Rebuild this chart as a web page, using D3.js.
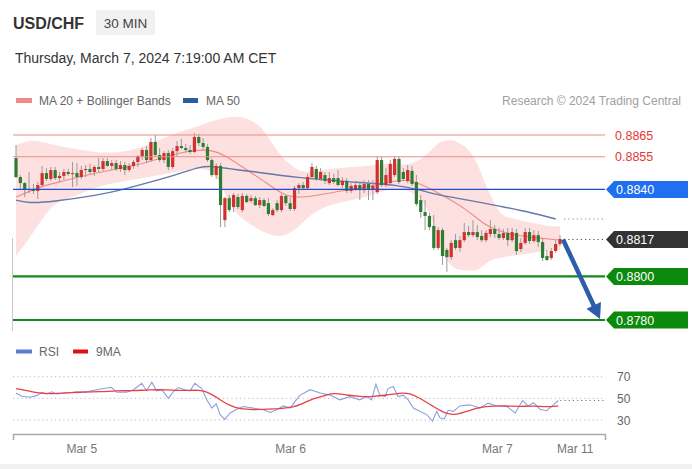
<!DOCTYPE html>
<html><head><meta charset="utf-8">
<script src="https://cdn.jsdelivr.net/npm/d3@7"></script>
<style>
html,body{margin:0;padding:0;background:#fff;}
svg{display:block;font-family:"Liberation Sans",Arial,sans-serif;}
</style></head><body>
<svg id="c" width="692" height="469"></svg>
<script>
// ---- DATA ----
const candleOpen = [
.88544,.88457,.88429,.88397,.88402,.88393,.88420,.88475,.88448,.88489,
.88452,.88462,.88480,.88471,.88475,.88457,.88489,.88494,.88480,.88503,
.88494,.88530,.88508,.88521,.88494,.88512,.88489,.88508,.88526,.88553,
.88581,.88535,.88618,.88558,.88535,.88567,.88503,.88576,.88599,.88590,
.88581,.88572,.88641,.88613,.88595,.88535,.88466,.88508,.88259,.88360,
.88319,.88365,.88305,.88370,.88347,.88360,.88328,.88351,.88337,.88282,
.88337,.88305,.88370,.88337,.88310,.88406,.88420,.88406,.88457,.88494,
.88448,.88466,.88429,.88452,.88452,.88420,.88439,.88393,.88402,.88420,
.88397,.88425,.88402,.88388,.88535,.88420,.88429,.88466,.88540,.88480,
.88439,.88485,.88434,.88351,.88296,.88278,.88232,.88131,.88213,.88122,
.88089,.88167,.88131,.88167,.88204,.88190,.88204,.88186,.88167,.88195,
.88218,.88195,.88177,.88200,.88167,.88200,.88126,.88154,.88204,.88163,
.88190,.88158,.88094,.88085,.88117,.88149];
const candleHigh = [
.88604,.88466,.88434,.88480,.88425,.88434,.88508,.88498,.88503,.88503,
.88480,.88494,.88494,.88526,.88521,.88508,.88512,.88517,.88512,.88544,
.88544,.88544,.88535,.88535,.88530,.88526,.88521,.88535,.88558,.88590,
.88599,.88636,.88650,.88590,.88576,.88581,.88590,.88622,.88632,.88609,
.88604,.88659,.88655,.88636,.88609,.88544,.88521,.88521,.88365,.88374,
.88383,.88379,.88383,.88379,.88374,.88370,.88365,.88360,.88360,.88314,
.88351,.88379,.88374,.88365,.88416,.88429,.88434,.88471,.88521,.88508,
.88498,.88480,.88480,.88471,.88489,.88457,.88452,.88429,.88439,.88434,
.88443,.88443,.88443,.88553,.88549,.88498,.88535,.88553,.88553,.88498,
.88512,.88508,.88466,.88374,.88351,.88291,.88282,.88227,.88223,.88131,
.88167,.88195,.88186,.88246,.88232,.88259,.88236,.88213,.88213,.88259,
.88236,.88223,.88218,.88223,.88223,.88218,.88177,.88223,.88223,.88213,
.88209,.88177,.88122,.88131,.88167,.88190];
const candleLow = [
.88452,.88397,.88365,.88383,.88379,.88356,.88411,.88439,.88439,.88443,
.88434,.88443,.88462,.88411,.88416,.88448,.88457,.88471,.88462,.88480,
.88485,.88503,.88489,.88485,.88480,.88466,.88480,.88494,.88503,.88535,
.88521,.88526,.88549,.88526,.88521,.88489,.88494,.88549,.88586,.88572,
.88563,.88567,.88599,.88581,.88526,.88457,.88448,.88227,.88227,.88296,
.88296,.88310,.88296,.88337,.88337,.88324,.88314,.88319,.88278,.88278,
.88296,.88296,.88324,.88301,.88301,.88379,.88397,.88402,.88443,.88439,
.88439,.88425,.88420,.88425,.88416,.88406,.88383,.88383,.88393,.88351,
.88383,.88351,.88351,.88379,.88411,.88411,.88420,.88457,.88425,.88439,
.88429,.88416,.88324,.88269,.88213,.88213,.88122,.88122,.88053,.88021,
.88076,.88122,.88113,.88158,.88181,.88181,.88167,.88158,.88158,.88181,
.88177,.88167,.88167,.88140,.88158,.88099,.88113,.88145,.88149,.88154,
.88135,.88071,.88071,.88076,.88108,.88140];
const candleClose = [
.88457,.88429,.88397,.88402,.88393,.88420,.88475,.88448,.88489,.88452,
.88462,.88480,.88471,.88475,.88457,.88489,.88494,.88480,.88503,.88494,
.88530,.88508,.88521,.88494,.88512,.88489,.88508,.88526,.88553,.88581,
.88535,.88618,.88558,.88535,.88567,.88503,.88576,.88599,.88590,.88581,
.88572,.88641,.88613,.88595,.88535,.88466,.88508,.88328,.88360,.88305,
.88374,.88319,.88370,.88342,.88360,.88328,.88351,.88324,.88287,.88305,
.88305,.88370,.88337,.88310,.88406,.88420,.88406,.88457,.88503,.88448,
.88480,.88439,.88452,.88434,.88420,.88439,.88393,.88416,.88420,.88397,
.88425,.88402,.88416,.88535,.88420,.88466,.88517,.88540,.88434,.88448,
.88489,.88425,.88333,.88296,.88278,.88227,.88131,.88213,.88094,.88089,
.88154,.88131,.88167,.88204,.88190,.88204,.88181,.88167,.88200,.88218,
.88195,.88177,.88200,.88167,.88204,.88117,.88154,.88204,.88163,.88190,
.88158,.88085,.88076,.88117,.88149,.88172];

const ma20Idx = [0,6,10,19,26,31,38,42,45,48,52,58,61,65,73,82,88,91,96,104,108,114,120,125];
const ma20Val = [.88365,.88416,.88434,.88480,.88503,.88530,.88572,.88581,.88581,.88558,.88503,.88425,.88379,.88356,.88388,.88416,.88443,.88443,.88397,.88305,.88227,.88190,.88177,.88167];

const ma50Idx = [0,3,8,19,24,31,38,42,45,49,52,65,77,88,93,97,104,110,119,124];
const ma50Val = [.88351,.88337,.88342,.88374,.88397,.88434,.88475,.88503,.88508,.88494,.88489,.88452,.88434,.88420,.88397,.88374,.88351,.88328,.88291,.88264];

const bandIdx = [0,2,4,7,10,15,19,26,31,35,39,42,45,47,49,51,53,56,58,61,65,68,73,79,85,88,90,93,95,97,98,100,101,104,106,107,109,111,113,119,123,125];
const bandUpper = [.88604,.88618,.88627,.88613,.88599,.88581,.88567,.88572,.88613,.88645,.88673,.88691,.88714,.88724,.88733,.88733,.88728,.88696,.88641,.88544,.88480,.88480,.88498,.88503,.88521,.88517,.88512,.88535,.88572,.88613,.88622,.88627,.88622,.88590,.88521,.88466,.88374,.88291,.88269,.88246,.88227,.88232];
const bandLower = [.88094,.88145,.88204,.88296,.88351,.88379,.88416,.88443,.88457,.88475,.88489,.88498,.88489,.88429,.88333,.88282,.88250,.88213,.88195,.88177,.88223,.88296,.88337,.88356,.88397,.88406,.88397,.88365,.88291,.88177,.88099,.88048,.88034,.88025,.88030,.88043,.88076,.88085,.88094,.88108,.88122,.88122];

const resistanceLevels = [0.8865, 0.8855];
const pivotLevel = 0.8840;
const currentPrice = 0.8817;
const supportLevels = [0.8800, 0.8780];
const targetLevel = 0.8780;

const rsiIdx = [0,1.3,3.2,4.8,5.9,7.1,8.2,9.3,11.6,13.9,16.2,18.5,20.8,22,23.1,25.4,27,28.9,30,31.2,32.3,33.5,35,36.1,37.3,38.8,40,41.1,42.7,43.8,45,46,46.9,48,49.2,50.7,52.2,54.5,56.8,58.4,59.9,61.4,63,64.1,65.3,67.6,69.9,72.2,74.4,76.7,79,80.6,81.7,82.7,83.6,84.8,85.5,86.7,87.8,89,90.1,91.3,92.8,94.4,95.7,96.7,97.4,98.4,99.3,100.5,102,104.3,106.6,108.5,110.5,112.8,114.7,116.4,117.7,118.9,120.4,121.9,123.5,124.6];
const rsiVal = [55,52,51,52.5,55.6,54,56,54,55,56,56,58,59.5,60,55.6,55.6,58,64,57,65,57,58,50,56,60,58,57,64,59,49,41,45,35,30.5,36.5,40,42.5,41,39.5,37,39.5,43,41,47,53,58,55,53,48.6,51.6,48.6,51.6,48.6,63,53,51.6,59,61,51.6,53,48.6,41,38,35,29,38,32,31,39,38,43,44,41,45.6,43,42.5,36.5,48,43,46,40,38.6,44,48];
const rsiMaIdx = [0,1.6,4.8,7.8,11.6,15.5,19.3,23.1,27,30.8,34.6,38.4,42.3,44.6,46.9,49.2,51.5,54.5,57.6,61.4,63.7,65.3,68.3,71.4,72.9,76,79,82.1,85.2,88.2,90.5,92.8,95.9,99,101.3,103.6,106.6,109.7,112.7,115.8,118.9,121.9,124.6];
const rsiMaVal = [59,58,55,54,55,56,56,57,57,58,58,57,58,55,48.6,43,40,39.5,40,40.7,42,44,50,53,55,53,51.6,51.6,53,55,55,50,42.5,35,35,38,42,43,43,42.5,43,42,43];
const rsiGrid = [70, 50, 30];

const tickLabels = ["Mar 5", "Mar 6", "Mar 7", "Mar 11"];
const tickIdx = [15, 63, 110.5, 128.4];

// ---- DRAW ----
const svg = d3.select("#c");
svg.append("rect").attr("width",692).attr("height",469).attr("fill","#fff");
svg.append("rect").attr("x",0).attr("y",464).attr("width",692).attr("height",5).attr("fill","#f0f0f0");

const x = d3.scaleLinear().domain([0,125]).range([16,560]);
const y = d3.scaleLinear().domain([0.8780,0.8865]).range([320,135]);
const yr = d3.scaleLinear().domain([30,70]).range([420,376.7]);
const xEnd = 605, xStart = 13;

// header
svg.append("text").attr("x",13).attr("y",29).attr("font-size",16).attr("font-weight","bold").attr("fill","#333").text("USD/CHF");
svg.append("rect").attr("x",96).attr("y",10).attr("width",59).attr("height",25).attr("fill","#f1f1f1");
svg.append("text").attr("x",125.5).attr("y",27.5).attr("text-anchor","middle").attr("font-size",13.5).attr("fill","#444").text("30 MIN");
svg.append("text").attr("x",15).attr("y",63).attr("font-size",14).attr("fill","#333").text("Thursday, March 7, 2024 7:19:00 AM CET");

// legend
svg.append("rect").attr("x",16).attr("y",98).attr("width",16).attr("height",5).attr("fill","#f08a8a");
svg.append("text").attr("x",39).attr("y",105).attr("font-size",12).attr("fill","#666").text("MA 20 + Bollinger Bands");
svg.append("rect").attr("x",183).attr("y",98).attr("width",15).attr("height",5).attr("fill","#2d5b9e");
svg.append("text").attr("x",206).attr("y",105).attr("font-size",12).attr("fill","#666").text("MA 50");
svg.append("text").attr("x",681).attr("y",105).attr("text-anchor","end").attr("font-size",12).attr("fill","#a0a0a0").text("Research \u00a9 2024 Trading Central");

// left small vertical line
svg.append("line").attr("x1",12.5).attr("x2",12.5).attr("y1",238).attr("y2",331).attr("stroke","#c8c8c8");

// bollinger band
const area = d3.area().x((d,i)=>x(bandIdx[i])).y0((d,i)=>y(bandLower[i])).y1((d,i)=>y(bandUpper[i])).curve(d3.curveBasis);
svg.append("path").attr("d",area(bandIdx)).attr("fill","#fde0e0");

// MA lines
const ln = (idx,val,sc)=>d3.line().x((d,i)=>x(idx[i])).y((d,i)=>sc(val[i])).curve(d3.curveBasis)(idx);
svg.append("path").attr("d",ln(ma20Idx,ma20Val,y)).attr("fill","none").attr("stroke","#f08a84").attr("stroke-width",1.1);
svg.append("path").attr("d",ln(ma50Idx,ma50Val,y)).attr("fill","none").attr("stroke","#6677aa").attr("stroke-width",1.4);

// candles
const cg = svg.append("g");
candleOpen.forEach((o,i)=>{
  const c = candleClose[i], cx = x(i);
  cg.append("line").attr("x1",cx).attr("x2",cx).attr("y1",y(candleHigh[i])).attr("y2",y(candleLow[i])).attr("stroke","#9a9a9a").attr("stroke-width",1);
  const top = y(Math.max(o,c)), bot = y(Math.min(o,c));
  cg.append("rect").attr("x",cx-1.6).attr("width",3.2).attr("y",top).attr("height",Math.max(1,bot-top))
    .attr("fill", c>=o ? "#d22f2f" : "#2e7d32");
});

// level lines
resistanceLevels.forEach(v=>{
  svg.append("line").attr("x1",xStart).attr("x2",xEnd).attr("y1",y(v)).attr("y2",y(v)).attr("stroke","#f08a8a").attr("stroke-width",1.2);
  svg.append("text").attr("x",615).attr("y",y(v)+4.5).attr("font-size",12.5).attr("fill","#e53935").text(v.toFixed(4));
});
svg.append("line").attr("x1",xStart).attr("x2",xEnd).attr("y1",y(pivotLevel)).attr("y2",y(pivotLevel)).attr("stroke","#1f4fd0").attr("stroke-width",1.4);
supportLevels.forEach(v=>{
  svg.append("line").attr("x1",xStart).attr("x2",xEnd).attr("y1",y(v)).attr("y2",y(v)).attr("stroke","#168a16").attr("stroke-width",2.2);
});
// dotted extensions
svg.append("line").attr("x1",x(125)+4).attr("x2",xEnd).attr("y1",y(ma50Val[ma50Val.length-1])).attr("y2",y(ma50Val[ma50Val.length-1])).attr("stroke","#888").attr("stroke-dasharray","1.2,3");
svg.append("line").attr("x1",x(125)+4).attr("x2",xEnd).attr("y1",y(currentPrice)).attr("y2",y(currentPrice)).attr("stroke","#555").attr("stroke-dasharray","1.2,3");

// label tags
function tag(v,col){
  const cy=y(v);
  svg.append("path").attr("d",`M${xEnd+1},${cy} L${xEnd+9},${cy-8.5} L688,${cy-8.5} L688,${cy+8.5} L${xEnd+9},${cy+8.5} Z`).attr("fill",col);
  svg.append("text").attr("x",616).attr("y",cy+4.5).attr("font-size",12.5).attr("fill","#fff").text(v.toFixed(4));
}
tag(pivotLevel,"#1f6ff0");
tag(currentPrice,"#333333");
supportLevels.forEach(v=>tag(v,"#0c8a0c"));

// arrow
{
  const x0=x(125)+3, y0=y(currentPrice), x1=x(134.2), y1=y(targetLevel)-1;
  const dx=x1-x0, dy=y1-y0, L=Math.hypot(dx,dy), ux=dx/L, uy=dy/L, px=-uy, py=ux;
  const hl=15, hw=8;
  const bx=x1-ux*hl, by=y1-uy*hl;
  svg.append("line").attr("x1",x0).attr("y1",y0).attr("x2",bx+ux*2).attr("y2",by+uy*2).attr("stroke","#2c5da8").attr("stroke-width",4.5);
  svg.append("path").attr("d",`M${x1},${y1} L${bx+px*hw},${by+py*hw} L${bx-px*hw},${by-py*hw} Z`).attr("fill","#2c5da8");
}

// RSI legend
svg.append("rect").attr("x",16).attr("y",349.5).attr("width",16).attr("height",4).attr("fill","#5a7fd0");
svg.append("text").attr("x",39).attr("y",355.5).attr("font-size",12).attr("fill","#666").text("RSI");
svg.append("rect").attr("x",73).attr("y",349.5).attr("width",15).attr("height",4).attr("fill","#e01010");
svg.append("text").attr("x",96).attr("y",355.5).attr("font-size",12).attr("fill","#666").text("9MA");

// RSI grid
rsiGrid.forEach(v=>{
  svg.append("line").attr("x1",xStart).attr("x2",xEnd).attr("y1",yr(v)).attr("y2",yr(v)).attr("stroke","#bbb").attr("stroke-dasharray","1.2,3");
  svg.append("text").attr("x",617).attr("y",yr(v)+4.5).attr("font-size",12).attr("fill","#666").text(v);
});
svg.append("line").attr("x1",x(124.6)+2).attr("x2",xEnd).attr("y1",yr(rsiVal[rsiVal.length-1])).attr("y2",yr(rsiVal[rsiVal.length-1])).attr("stroke","#777").attr("stroke-dasharray","1.2,3");
const rl = (idx,val)=>d3.line().x((d,i)=>x(idx[i])).y((d,i)=>yr(val[i]))(idx);
svg.append("path").attr("d",rl(rsiIdx,rsiVal)).attr("fill","none").attr("stroke","#8aa2dc").attr("stroke-width",1.1);
svg.append("path").attr("d",d3.line().x((d,i)=>x(rsiMaIdx[i])).y((d,i)=>yr(rsiMaVal[i])).curve(d3.curveBasis)(rsiMaIdx)).attr("fill","none").attr("stroke","#e8404a").attr("stroke-width",1.3);

// x axis
const xa = d3.scaleLinear().domain([x.invert(xStart), x.invert(xEnd)]).range([xStart,xEnd]);
const axis = d3.axisBottom(xa).tickValues(tickIdx).tickFormat((d,i)=>tickLabels[i]).tickSizeInner(0).tickSizeOuter(6).tickPadding(10);
const ag = svg.append("g").attr("transform","translate(0,434)").call(axis);
ag.select(".domain").attr("stroke","#aaa").attr("stroke-width",1.5);
ag.selectAll("text").attr("font-size",12).attr("fill","#777").attr("font-family","Liberation Sans, Arial, sans-serif");
</script>
</body></html>
